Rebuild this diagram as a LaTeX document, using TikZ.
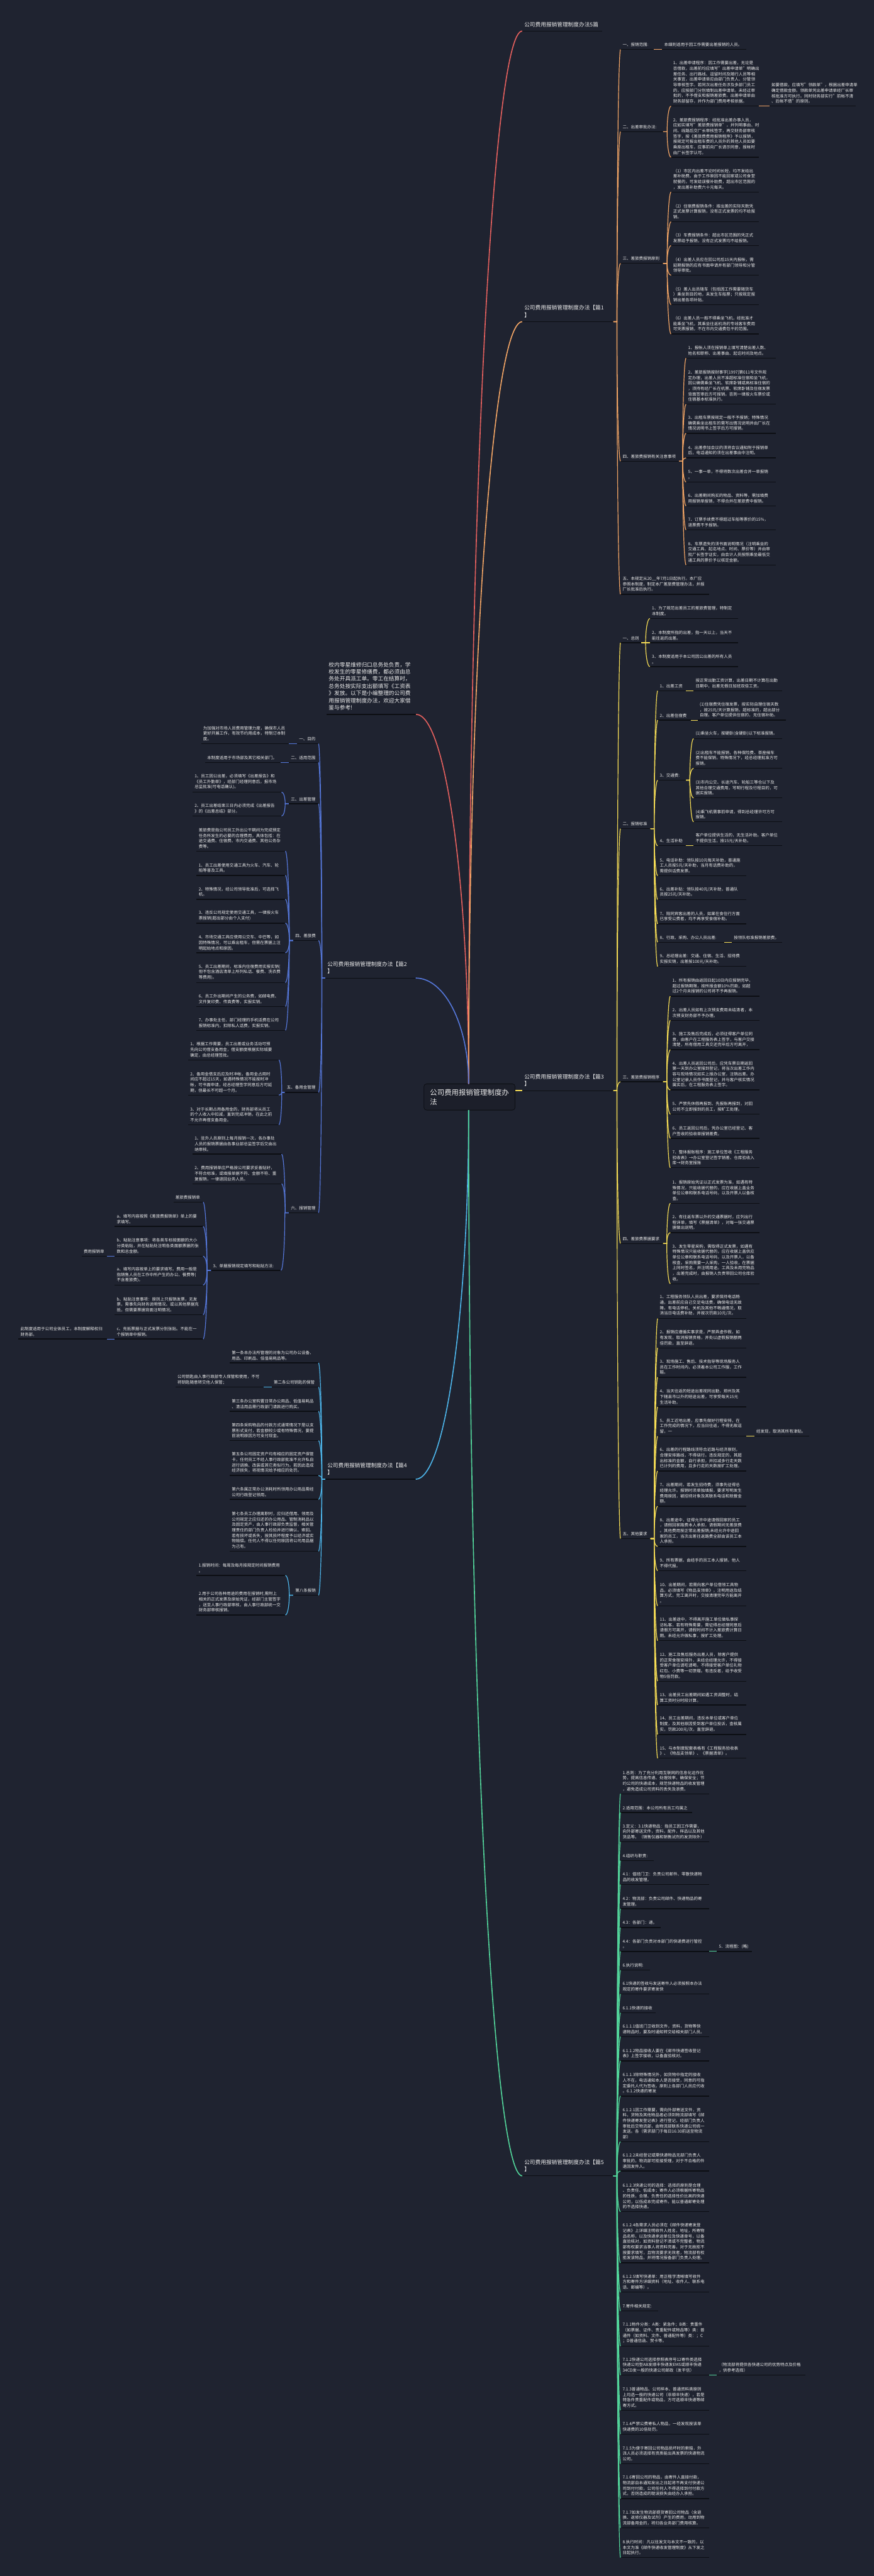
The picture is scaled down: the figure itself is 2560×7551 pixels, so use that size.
\documentclass[tikz,border=0pt]{standalone}
\usepackage{fontspec}
\setmainfont{Noto Sans CJK SC}
\usetikzlibrary{calc}
\definecolor{bg}{HTML}{1F2330}
\definecolor{rbg}{HTML}{1C1F2A}
\definecolor{ulc}{HTML}{0C0E13}
\definecolor{txc}{HTML}{EEEEEE}
\definecolor{cred}{HTML}{E4605E}
\definecolor{corg}{HTML}{F2A565}
\definecolor{cblu}{HTML}{5577D9}
\definecolor{cyel}{HTML}{F5DC55}
\definecolor{ccya}{HTML}{4DB5EA}
\definecolor{cgrn}{HTML}{52D49A}
\newcommand\RN[6]{%
  \node[#2, anchor=south west] (#1) at ({#3+6},{#5-8}) {#6};
  \draw[ul] (#3,#5) -- (#4,#5);
  \coordinate (#1l) at (#3,#5);
  \coordinate (#1r) at (#4,#5);}
\newcommand\conn[3]{%
  \coordinate (cj) at ($(#2)!0.5!(#2-|#3)$);
  \draw[cn,#1] (#2) -- (cj) .. controls ($(cj)!0.552!(cj|-#3)$) and ($(#3)!0.552!(cj|-#3)$) .. (#3);}
\newcommand\rconn[3]{%
  \draw[rcn,#1] (#2) .. controls ($(#2)!0.552!(#2|-#3)$) and ($(#3)!0.552!(#2|-#3)$) .. (#3);}
\begin{document}
\begin{tikzpicture}[x=1pt,y=-1pt,
 bt/.style={font=\fontsize{12}{16}\selectfont, text=txc, inner sep=0pt, align=left},
 tt/.style={font=\fontsize{16}{21}\selectfont, text=txc, inner sep=0pt, align=left, yshift=4pt},
 ul/.style={draw=ulc, line width=2.5pt},
 cn/.style={line width=2.2pt},
 rcn/.style={line width=3pt},
 rootbox/.style={draw=ulc, line width=1.5pt, rounded corners=8pt, fill=rbg, minimum width=267pt, minimum height=77pt, inner sep=0pt, text=txc, font=\fontsize{21}{28}\selectfont, align=left}]
\useasboundingbox (0,0) rectangle (2560,7551);
\fill[bg] (0,0) rectangle (2560,7551);

% ---------- root ----------
\node[rootbox] (root) at (1375.5,3215.5) {公司费用报销管理制度办\\法};
\coordinate (rootT) at (1373,3177);
\coordinate (rootB) at (1373,3254);
\coordinate (rootE) at (1509,3197);

% ---------- 5篇 ----------
\RN{T0}{tt}{1530}{1764}{91}{公司费用报销管理制度办法5篇}

% ---------- intro ----------
\node[font=\fontsize{16}{21}\selectfont, text=txc, inner sep=0pt, align=left, anchor=south west] (I0) at (963,2082) {校内零星维修归口总务处负责，学\\校发生的零星修缮费，都必须由总\\务处开具派工单。零工在结算时，\\总务处按实际支出额填写《工资表\\》发放。以下是小编整理的公司费\\用报销管理制度办法，欢迎大家借\\鉴与参考!};
\draw[ul] (957,2094) -- (1219,2094);
\coordinate (I0r) at (1219,2094);

% ---------- 篇1 ----------
\RN{P1}{tt}{1530}{1797}{943}{公司费用报销管理制度办法【篇1\\】}
\RN{a1}{bt}{1818}{1916}{145}{一、报销范围:}
\RN{a1c}{bt}{1940}{2186}{145}{本细则适用于因工作需要出差报销的人员。}
\RN{a2}{bt}{1818}{1943}{386}{二、出差审批办法:}
\RN{a21}{bt}{1966}{2223}{311}{1、出差申请程序：因工作需要出差，无论是\\否借款，出差前均应填写"出差申请单"明确出\\差任务、出行路线、逗留时间及随行人员等相\\关事宜，出差申请单应由部门负责人、分管领\\导审核签字。若同次出差任务涉及多部门员工\\的，应按部门分别填制出差申请单。未经过审\\批的，不予借支和报销差旅费。出差申请单由\\财务部留存，并作为部门费用考核依据。}
\RN{a21c}{bt}{2254}{2507}{311}{如要借款，应填写"领款单"，根据出差申请单\\确定借款金额。领款单凭出差申请单经厂长审\\核批准方可执行。同时财务部实行"前帐不清\\、后帐不借"的原则。}
\RN{a22}{bt}{1966}{2223}{461}{2、差旅费报销程序：经批准出差办事人员，\\应如实填写"差旅费报销单"，并列明事由、时\\间、线路后交厂长审核签字，再交财务部审核\\签字，按《差旅费费用报销程序》予以报销，\\按规定可报出租车费的人员外的其他人员如要\\乘座出租车，应事前向厂长请示同意，报帐时\\由厂长签字认可。}
\RN{a3}{bt}{1818}{1943}{772}{三、差旅费报销原则}
\RN{a31}{bt}{1966}{2223}{563}{（1）市区内出差不论时间长短，均不发给出\\差补助费。由于工作原因不能回家或公司食堂\\就餐的，可发给误餐补助费，超出市区范围的\\，发出差补助费六十元每天。}
\RN{a32}{bt}{1966}{2223}{650}{（2）住宿费报销条件：按出差的实际天数凭\\正式发票计算报销，没有正式发票的均不给报\\销。}
\RN{a33}{bt}{1966}{2223}{720}{（3）车费报销条件：超出市区范围的凭正式\\发票给予报销，没有正式发票均不给报销。}
\RN{a34}{bt}{1966}{2223}{807}{（4）出差人员应在回公司后15天内报帐，需\\延期报销的应有书面申请并有部门领导和分管\\领导审批。}
\RN{a35}{bt}{1966}{2223}{893}{（5）差人出员随车（包括因工作需要随货车\\）乘坐到目的地，未发生车船票；只按规定报\\销出差各项补贴。}
\RN{a36}{bt}{1966}{2223}{979}{（6）出差人员一般不得乘坐飞机，经批准才\\能乘坐飞机，其乘坐往返机场的专线客车费用\\可凭票报销，不在市内交通费包干的范围。}
\RN{a4}{bt}{1818}{1990}{1352}{四、差旅费报销有关注意事项}
\RN{a41}{bt}{2010}{2273}{1050}{1、报帐人须在报销单上填写清楚出差人数、\\姓名和职称、出差事由、起讫时间及地点。}
\RN{a42}{bt}{2010}{2273}{1185}{2、差旅报销按财事字[1997]第011号文件规\\定办理，出差人员不准超标准住宿和坐飞机，\\因公确需乘坐飞机、软席卧铺或高标准住宿的\\，须持有经厂长在机票、软席卧铺及住宿发票\\背面签审后方可报销。否则一律按火车票价或\\住宿基本标准执行。}
\RN{a43}{bt}{2010}{2273}{1270}{3、出租车票按规定一般不予报销；特殊情况\\确需乘坐出租车的需写出情况说明并由厂长在\\情况说明书上签字后方可报销。}
\RN{a44}{bt}{2010}{2273}{1342}{4、出差参加会议的须将会议通知附于报销单\\后，电话通知的须在出差事由中注明。}
\RN{a45}{bt}{2010}{2273}{1413}{5、一事一单，不得将数次出差合并一单报销\\。}
\RN{a46}{bt}{2010}{2273}{1483}{6、出差期间购买的物品、资料等，需加填费\\用报销单报销，不得合并在差旅费中报销。}
\RN{a47}{bt}{2010}{2273}{1553}{7、订票手续费不得超过车船等票价的15\%，\\退票费不予报销。}
\RN{a48}{bt}{2010}{2273}{1656}{8、车票遗失的须书面说明情况（注明乘坐的\\交通工具、起迄地点、时间、票价等）并由审\\批厂长签字证实，由会计人员按照乘坐最低交\\通工具的票价予以核定金额。}
\RN{a5}{bt}{1818}{2078}{1742}{五、本规定从20\_\_年7月1日起执行。本厂应\\参照本制度，制定本厂差旅费管理办法，并报\\厂长批准后执行。}

% ---------- 篇3 ----------
\RN{P3}{tt}{1530}{1797}{3197}{公司费用报销管理制度办法【篇3\\】}
\RN{b1}{bt}{1818}{1879}{1884}{一、总则}
\RN{b11}{bt}{1904}{2162}{1813}{1、为了规范出差员工的差旅费管理，特制定\\本制度。}
\RN{b12}{bt}{1904}{2162}{1884}{2、本制度所指的出差，指一天以上，当天不\\能往返的出差。}
\RN{b13}{bt}{1904}{2162}{1954}{3、本制度适用于本公司因公出差的所有人员\\。}
\RN{b2}{bt}{1818}{1906}{2429}{二、报销标准}
\RN{b21}{bt}{1927}{2010}{2025}{1、出差工资}
\RN{b21c}{bt}{2032}{2292}{2025}{按正常出勤工资计算，出差日期不计算在出勤\\日期中，出差无假日加班双倍工资。}
\RN{b22}{bt}{1927}{2024}{2111}{2、出差住宿费}
\RN{b22c}{bt}{2044}{2303}{2111}{(1)住宿费凭住宿发票，按实际自理住宿天数\\，按25元/天计算报销，超标准的，超出部分\\自理。客户单位提供住宿的，无住宿补助。}
\RN{b23}{bt}{1927}{2010}{2287}{3、交通费:}
\RN{b231}{bt}{2032}{2292}{2165}{(1)乘坐火车，按硬卧(含硬卧)以下标准报销。}
\RN{b232}{bt}{2032}{2292}{2252}{(2)出租车不能报销，各种保险费、茶座候车\\费不能保销，特殊情况下，经总经理批准方可\\报销。}
\RN{b233}{bt}{2032}{2292}{2339}{(3)市内公交、长途汽车、轮船三等仓以下及\\其他合理交通费用，写明行程及行程目的，可\\据实报销。}
\RN{b234}{bt}{2032}{2292}{2409}{(4)乘飞机需事前申请，得到总经理许可方可\\报销。}
\RN{b24}{bt}{1927}{2010}{2479}{4、生活补助}
\RN{b24c}{bt}{2032}{2292}{2479}{客户单位提供生活的，无生活补助。客户单位\\不提供生活，按15元/天补助。}
\RN{b25}{bt}{1927}{2186}{2567}{5、电话补助：领队按10元每天补助，普通施\\工人员按5元/天补助，当月有话费补助的，\\需提供话费发票。}
\RN{b26}{bt}{1927}{2186}{2637}{6、出差补贴：领队按40元/天补助，普通队\\员按25元/天补助。}
\RN{b27}{bt}{1927}{2186}{2708}{7、陪同宾客出差的人员，如果在食住行方面\\已享受公费者，均不再享受食宿补助。}
\RN{b28}{bt}{1927}{2121}{2762}{8、行政、采购、办公人员出差:}
\RN{b28c}{bt}{2144}{2292}{2762}{按领队标准报销差旅费。}
\RN{b29}{bt}{1927}{2186}{2833}{9、总经理出差：交通、住宿、生活、招待费\\实报实销，出差按100元/天补助。}
\RN{b3}{bt}{1818}{1943}{3171}{三、差旅费报销程序}
\RN{b31}{bt}{1964}{2225}{2920}{1、所有报销由返回日起10日内应报销完毕，\\超过报销期限，按所报金额10\%罚款，如超\\过2个月未报销的公司将不予再报销。}
\RN{b32}{bt}{1964}{2225}{2991}{2、出差人员如有上次预支费用未结清者，本\\次预支财务部不予办理。}
\RN{b33}{bt}{1964}{2225}{3077}{3、施工及售后完成后，必须征得客户单位同\\意，由客户在工程服务表上签字，与客户交接\\清楚，所有借用工具交还完毕后方可离开，}
\RN{b34}{bt}{1964}{2225}{3195}{4、出差人员返回公司后，应凭车票日期返回\\第一天到办公室报到登记，将当次出差工作内\\容与现场情况如实上报办公室，注销出差。办\\公室记录人员作书面登记，并与客户核实情况\\属实后，在工程服务表上签字。}
\RN{b35}{bt}{1964}{2225}{3266}{5、严禁先休假再报到、先报账再报到，对回\\公司不立即报到的员工，按旷工处理。}
\RN{b36}{bt}{1964}{2225}{3337}{6、员工返回公司后，凭办公室已经登记、客\\户签收的验收单报销差费。}
\RN{b37}{bt}{1964}{2225}{3423}{7、整体报账程序：施工单位签收《工程服务\\验收表》→办公室登记签字销差、仓库验收入\\库→财务室报账}
\RN{b4}{bt}{1818}{1943}{3645}{四、差旅费票据要求}
\RN{b41}{bt}{1964}{2225}{3527}{1、报销原始凭证以正式发票为准，如遇有特\\殊情况，只能收据代替的，应在收据上盖业务\\单位公章和联系电话号码，以及开票人以备核\\查。}
\RN{b42}{bt}{1964}{2225}{3613}{2、有往返车票以外的交通票据时，应列出行\\程详单，填写《票据清单》，对每一张交通票\\据做出说明。}
\RN{b43}{bt}{1964}{2225}{3763}{3、发生零星采购，需取得正式发票，如遇有\\特殊情况只能收据代替的，应在收据上盖供应\\单位公章和联系电话号码，以及开票人，以备\\核查。采购需要一人采购，一人验收，在票据\\上同时签名，并注明用途。工具及未用完物品\\，出差完成时，由报销人负责带回公司仓库验\\收。}
\RN{b5}{bt}{1818}{1906}{4510}{五、其他要求}
\RN{b51}{bt}{1927}{2186}{3865}{1、工程服务领队人员出差，要求保持电话畅\\通，出差前应自己交足电话费，确保电话无故\\障。有电话停机、关机及其他不畅通情况，取\\消当日电话费补助，并按次罚款10元/次。}
\RN{b52}{bt}{1927}{2186}{3951}{2、报销应遵循实事求是，严禁弄虚作假，如\\有发现，取消报销资格，并处以虚假报销额两\\倍罚款，直至辞退。}
\RN{b53}{bt}{1927}{2186}{4037}{3、现场施工、售后、技术指导等现场服务人\\员在工作时间内，必须着本公司工作服，工作\\鞋。}
\RN{b54}{bt}{1927}{2186}{4124}{4、当天往返的短途出差视同出勤，郑州及其\\下辖县市以外的短途出差，可享受每天15元\\生活补助。}
\RN{b55}{bt}{1927}{2186}{4210}{5、员工近地出差，应事先做好行程安排，在\\工作完成的情况下，应当日往返，不得无故逗\\留，一}
\RN{b55c}{bt}{2210}{2371}{4210}{经发现，取消其所有津贴。}
\RN{b56}{bt}{1927}{2186}{4312}{6、出差的行程路线须符合近路与经济原则，\\合理安排路线，不得绕行。违反规定的，其超\\出标准的金额，自行承担，并扣减多行走天数\\已计列的费用，且多行走的天数按旷工处理。}
\RN{b57}{bt}{1927}{2186}{4415}{7、出差期间，若发生招待费，须事先征得总\\经理允许。报销时须单独填报，要求写明发生\\费用原因，被招待对象及其联系电话和就餐金\\额。}
\RN{b58}{bt}{1927}{2186}{4533}{8、出差途中，征得允许中途请假回家的员工\\，请假回家路费本人承担，请假期间无差旅费\\。其他费用按正常出差报销;未经允许中途回\\家的员工，当次出差往返路费全部由该员工本\\人承担。}
\RN{b59}{bt}{1927}{2186}{4604}{9、所有票据，由经手的员工本人报销，他人\\不得代报。}
\RN{b510}{bt}{1927}{2186}{4707}{10、出差期间，若需向客户单位借领工具物\\品，必须填写《物品支领单》，注明用途及结\\算方式，完工离开时，交接清理完毕方能离开\\。}
\RN{b511}{bt}{1927}{2186}{4809}{11、出差途中，不得离开施工单位做私事探\\访私客，若有特殊需要，需征得总经理同意后\\请假方可离开，请假时间不计入差旅费计算日\\期。未经允许做私事，按旷工处理。}
\RN{b512}{bt}{1927}{2186}{4928}{12、施工及售后服务出差人员，除客户提供\\的正常食宿安排外，未经总经理允许，不得接\\受客户单位请吃请喝，不得接受客户单位礼物\\红包、小费等一切馈赠。有违反者，给予收受\\物5倍罚款。}
\RN{b513}{bt}{1927}{2186}{4998}{13、出差员工出差期间如遇工资调整时，结\\算工资时分时段计算。}
\RN{b514}{bt}{1927}{2186}{5084}{14、员工出差期间，违反本单位或客户单位\\制度，及其他原因受到客户单位投诉，查核属\\实，罚款200元/次，直至辞退。}
\RN{b515}{bt}{1927}{2186}{5154}{15、与本制度配套表格有《工程服务验收表\\》、《物品支领单》、《票据清单》。}

% ---------- 篇5 ----------
\RN{P5}{tt}{1530}{1797}{6378}{公司费用报销管理制度办法【篇5\\】}
\RN{f1}{bt}{1818}{2078}{5258}{1.总则：为了充分利用互联网的信息化运作优\\势，提高信息传递、处理效率，确保安全；节\\约公司的快递成本，规范快递物品的收发管理\\，避免造成公司资料的丢失及浪费。}
\RN{f2}{bt}{1818}{2027}{5313}{2.适用范围：本公司所有员工均属之}
\RN{f3}{bt}{1818}{2078}{5399}{3.定义：3.1快递物品：指员工因工作需要，\\向外部寄送文件，资料，配件，样品以及其他\\货品等。（销售仪器和销售试剂的发货除外）}
\RN{f4}{bt}{1818}{1916}{5454}{4.组织与职责:}
\RN{f5}{bt}{1818}{2078}{5524}{4.1：值班门卫：负责公司邮件、零散快递物\\品的收发管理。}
\RN{f6}{bt}{1818}{2078}{5595}{4.2：物流部：负责公司邮件、快递物品的寄\\发管理。}
\RN{f7}{bt}{1818}{1935}{5650}{4.3：各部门：递。}
\RN{f8}{bt}{1818}{2078}{5720}{4.4：各部门负责对本部门的快递费进行管控\\。}
\RN{f8c}{bt}{2100}{2203}{5720}{5．流程图：(略)}
\RN{f9}{bt}{1818}{1904}{5775}{6.执行说明:}
\RN{f10}{bt}{1818}{2078}{5845}{6.1快递的签收与发送寄件人必须按照本办法\\规定的寄件要求寄发快}
\RN{f11}{bt}{1818}{1921}{5900}{6.1.1快递的接收}
\RN{f12}{bt}{1818}{2078}{5970}{6.1.1.1值班门卫收到文件，资料，货物等快\\递物品时，要及时通知转交给相关部门人员。}
\RN{f13}{bt}{1818}{2078}{6041}{6.1.1.2物品接收人要在《邮件快递签收登记\\表》上签字接收，以备直验核对。}
\RN{f14}{bt}{1818}{2078}{6144}{6.1.1.3除特殊情况外，如货物中指定的接收\\人不在，电话通知本人是否接受，同意的可指\\定委托人代为签收。原则上各部门人员应代收\\。6.1.2快递的寄发}
\RN{f15}{bt}{1818}{2078}{6278}{6.1.2.1因工作需要，需向外部寄送文件，资\\料，货物及其他物品者必须到物流部填写《邮\\件快递寄发登记表》进行登记，经部门负责人\\审批后交物流部，由物流部联系快递公司统一\\发送。各（需求部门于每日16:30前送至物流\\部）}
\RN{f16}{bt}{1818}{2078}{6364}{6.1.2.2未经登记或需快递物品无部门负责人\\审批的，物流部可拒接受理，对于不合格的件\\退回发件人。}
\RN{f17}{bt}{1818}{2078}{6483}{6.1.2.3快递公司的选择：选择的原则是合理\\、负责任、低成本；寄件人必须根据所寄物品\\的性质，合理、负责任的选择性价比高的快递\\公司，以低成本完成寄件。能以普通邮寄处理\\的不选择快递。}
\RN{f18}{bt}{1818}{2078}{6633}{6.1.2.4各需求人员必须在《邮件快递寄发登\\记表》上详细注明收件人姓名，地址，所寄物\\品名称，以及快递承运单位及快递单号，以备\\直验核对，如资料登记不清或不完整者，物流\\部有权要求当事人将资料完善，对于无故拒不\\按要求填写，且物流要求无效者，物流部有权\\拒发该物品，并将情况报备部门负责人处理。}
\RN{f19}{bt}{1818}{2078}{6719}{6.1.2.5填写快递单：用正楷字清晰填写收件\\方和寄件方详细资料（地址、收件人、联系电\\话、邮编等）。}
\RN{f20}{bt}{1818}{1928}{6774}{7.寄件相关规定:}
\RN{f21}{bt}{1818}{2078}{6877}{7.1.1物件分类：A类：紧急件；B类：贵重件\\（如票据、证件、贵重配件或物品等）类：普\\通件（如资料、文件、普通配件等）类：；C\\；D普通信函、贺卡等。}
\RN{f22}{bt}{1818}{2078}{6962}{7.1.2快递公司选择参照表序号12寄件类选择\\快递公司型AB发顺丰快递发EMS或顺丰快递\\34CD发一般的快递公司邮政（发平信）}
\RN{f22c}{bt}{2100}{2360}{6962}{（物流部将提供各快递公司的优势特点及价格\\，供参考选择）}
\RN{f23}{bt}{1818}{2078}{7065}{7.1.3普通物品、公司样本、普通资料类原则\\上均选一般的快递公司（非顺丰快递），若是\\特急件贵重配件或物品，方可选顺丰快递等邮\\寄方式。}
\RN{f24}{bt}{1818}{2078}{7135}{7.1.4严禁公费寄私人物品，一经发现按该单\\快递费的10倍处罚。}
\RN{f25}{bt}{1818}{2078}{7222}{7.1.5为便于寄回公司物品损坏时的索赔，外\\派人员必须选择有资质能出具发票的快递物流\\公司。}
\RN{f26}{bt}{1818}{2078}{7324}{7.1.6寄回公司的物品，由寄件人直接付款，\\物流部自本通知发出之日起将不再支付快递公\\司到付付款，公司任何人不得选择到付付款方\\式，否则造成的耽误损失由经办人承担。}
\RN{f27}{bt}{1818}{2078}{7410}{7.1.7如发生物流部提货寄回公司物品（含退\\换、返修仪器及试剂）产生的费用，动用到物\\流部备用金的，将归各业务部门费用核算。}
\RN{f28}{bt}{1818}{2078}{7497}{8.执行时间：凡以往发文与本文不一致的，以\\本文为准《邮件快递收发管理制度》从下发之\\日起执行。}

% ---------- 篇2 (left) ----------
\RN{P2}{tt}{953}{1218}{2867}{公司费用报销管理制度办法【篇2\\】}
\RN{c1}{bt}{870}{933}{2180}{一、目的}
\RN{c1c}{bt}{589}{847}{2180}{为加强对市场人员费用管理力度，确保市人员\\更好开展工作，有效节约用成本，特制订本制\\度。}
\RN{c2}{bt}{846}{933}{2235}{二、适用范围}
\RN{c2c}{bt}{601}{823}{2235}{本制度适用于市场部及其它相关部门。}
\RN{c3}{bt}{846}{933}{2356}{三、出差管理}
\RN{c31}{bt}{564}{825}{2322}{1、员工因公出差，必须填写《出差报告》和\\《员工外勤单》，经部门经理同意后，报市场\\总监批准(可电话确认)。}
\RN{c32}{bt}{564}{825}{2392}{2、员工出差结束三日内必须完成《出差报告\\》的《出差总结》部分。}
\RN{c4}{bt}{859}{933}{2757}{四、差旅费}
\RN{c41}{bt}{576}{836}{2495}{差旅费是指公司员工外出公干期间为完成预定\\任务所发生的必要的合理费用，具体包括：在\\途交通费、住宿费、市内交通费、其他公务杂\\费等。}
\RN{c42}{bt}{576}{836}{2566}{1、员工出差使用交通工具为火车、汽车、轮\\船等普及工具。}
\RN{c43}{bt}{576}{836}{2636}{2、特殊情况，经公司领导批准后，可选择飞\\机。}
\RN{c44}{bt}{576}{836}{2706}{3、违反公司规定使用交通工具，一律按火车\\票报销(超出部分由个人支付)}
\RN{c45}{bt}{576}{836}{2793}{4、市场交通工具应使用公交车、中巴等，如\\因特殊情况，可以乘出租车，但需在票据上注\\明起始地点和原因。}
\RN{c46}{bt}{576}{836}{2880}{5、员工出差期间，标准内住宿费用实报实销(\\但不包含酒店清单上所列私话、餐费、洗衣费\\等费用)。}
\RN{c47}{bt}{576}{836}{2950}{6、员工外出期间产生的公务费，如邮电费、\\文件复印费、传真费等，实报实销。}
\RN{c48}{bt}{576}{836}{3020}{7、办事处主任、部门经理的手机话费在公司\\报销标准内，扣除私人话费，实报实销。}
\RN{c5}{bt}{834}{933}{3202}{五、备用金管理}
\RN{c51}{bt}{551}{817}{3107}{1、根据工作需要，员工出差或业务活动可预\\先向公司借支备用金，借支额度根据实际城要\\确定，由总经理签批。}
\RN{c52}{bt}{551}{817}{3210}{2、备用金借支后应及时冲帐，备用金占用时\\间应不超过15天，如遇特殊情况不能按时冲\\帐，可书面申请，经总经理签字同意后方可延\\期，但最长不可超一个月。}
\RN{c53}{bt}{551}{817}{3297}{3、对于长期占用备用金的，财务部将从员工\\的个人收入中扣减，直到完成冲销，在此之前\\不允许再借支备用金。}
\RN{c6}{bt}{846}{933}{3555}{六、报销管理}
\RN{c61}{bt}{564}{825}{3383}{1、驻外人员原则上每月报销一次，各办事处\\人员的报销票据由各事业部总监签字后交由出\\纳审核。}
\RN{c62}{bt}{564}{825}{3470}{2、费用报销单应严格按公司要求妥善贴好，\\不符合标准，或填报单据不符、金额不符、重\\复报销，一律退回业务人员。}
\RN{c63}{bt}{618}{823}{3724}{3、单据报销规定填写和粘贴方法:}
\RN{d1}{bt}{508}{595}{3524}{差旅费报销单}
\RN{d2}{bt}{336}{595}{3595}{a、填写内容按照《差旅费报销单》单上的要\\求填写。}
\RN{d3}{bt}{336}{595}{3682}{b、粘贴注意事项：将各类车标按面额的大小\\分类粘贴，并在粘贴处注明各类面额票据的张\\数和总金额。}
\RN{d3c}{bt}{239}{313}{3682}{费用报销单}
\RN{d4}{bt}{336}{595}{3767}{a、填写内容按单上的要求填写。费用一般是\\指销售人员在工作中所产生的办公、餐费等(\\不含差旅费)。}
\RN{d5}{bt}{336}{595}{3854}{b、粘贴注意事项：原则上只报销发票，无发\\票，需事先向财务说明情况。或以其他票据充\\抵，但需要票据背面注明情况。}
\RN{d6}{bt}{336}{595}{3925}{c、充抵票据与正式发票分别张贴。不能在一\\个报销单中报销。}
\RN{d6c}{bt}{54}{313}{3925}{此制度适用于公司全体员工，本制度解释权归\\财务部。}

% ---------- 篇4 (left) ----------
\RN{P4}{tt}{953}{1218}{4336}{公司费用报销管理制度办法【篇4\\】}
\RN{e1}{bt}{673}{933}{3995}{第一条本办法所管理的对象为公司办公设备、\\用品、印刷品、低值易耗品等。}
\RN{e2}{bt}{796}{933}{4066}{第二条公司钥匙的保管}
\RN{e2c}{bt}{514}{773}{4066}{公司钥匙由人事行政部专人保管和使用，不可\\将钥匙随意转交他人保管；}
\RN{e3}{bt}{673}{933}{4137}{第三条办公室购置日常办公用品、低值易耗品\\、清洁用品需行政部门请款进行购买。}
\RN{e4}{bt}{673}{933}{4223}{第四条采购物品的付款方式通常情况下是以支\\票形式支付，若金额较少或有特殊情况，要提\\前说明原因方可支付现金。}
\RN{e5}{bt}{673}{933}{4325}{第五条公司固定资产均有相应的固定资产保管\\卡，任何员工不经人事行政部批准不允许私自\\进行调换、改装或其它类似行为。若因此造成\\经济损失，将视情况给予相应的处罚。}
\RN{e6}{bt}{673}{933}{4395}{第六条属正常办公消耗时所领用办公用品需经\\公司行政登记领用。}
\RN{e7}{bt}{673}{933}{4547}{第七条员工办理离职时，应归还借用、领用及\\公司规定之应归还的办公用品、管制消耗品以\\及固定资产，由人事行政部负责监督，相关管\\理责任的部门负责人检验并进行确认、索回。\\若有损坏或丢失，按其损坏程度予以经济或实\\物赔偿。任何人不得以任何原因将公司用品据\\为己有。}
\RN{e8}{bt}{859}{933}{4676}{第八条报销}
\RN{e81}{bt}{576}{836}{4618}{1.报销时间：每周及每月按规定时间报销费用\\。}
\RN{e82}{bt}{576}{836}{4734}{2.用于公司各种用途的费用在报销时,需附上\\相关的正式发票及原始凭证，经部门主管签字\\，送至人事行政部审核，由人事行政部统一交\\财务部审核报销。}

% ---------- root connectors ----------
\rconn{cred}{rootT}{T0l}
\rconn{cred}{rootT}{I0r}
\rconn{corg}{rootT}{P1l}
\rconn{cblu}{rootT}{P2r}
\rconn{cyel}{rootE}{P3l}
\rconn{ccya}{rootB}{P4r}
\rconn{cgrn}{rootB}{P5l}

% ---------- 篇1 connectors ----------
\foreach \c in {a1,a2,a3,a4,a5} {\conn{corg}{P1r}{\c l}}
\conn{corg}{a1r}{a1cl}
\conn{corg}{a2r}{a21l}
\conn{corg}{a2r}{a22l}
\conn{corg}{a21r}{a21cl}
\foreach \c in {a31,a32,a33,a34,a35,a36} {\conn{corg}{a3r}{\c l}}
\foreach \c in {a41,a42,a43,a44,a45,a46,a47,a48} {\conn{corg}{a4r}{\c l}}

% ---------- 篇3 connectors ----------
\foreach \c in {b1,b2,b3,b4,b5} {\conn{cyel}{P3r}{\c l}}
\foreach \c in {b11,b12,b13} {\conn{cyel}{b1r}{\c l}}
\foreach \c in {b21,b22,b23,b24,b25,b26,b27,b28,b29} {\conn{cyel}{b2r}{\c l}}
\conn{cyel}{b21r}{b21cl}
\conn{cyel}{b22r}{b22cl}
\foreach \c in {b231,b232,b233,b234} {\conn{cyel}{b23r}{\c l}}
\conn{cyel}{b24r}{b24cl}
\conn{cyel}{b28r}{b28cl}
\foreach \c in {b31,b32,b33,b34,b35,b36,b37} {\conn{cyel}{b3r}{\c l}}
\foreach \c in {b41,b42,b43} {\conn{cyel}{b4r}{\c l}}
\foreach \c in {b51,b52,b53,b54,b55,b56,b57,b58,b59,b510,b511,b512,b513,b514,b515} {\conn{cyel}{b5r}{\c l}}
\conn{cyel}{b55r}{b55cl}

% ---------- 篇5 connectors ----------
\foreach \c in {f1,f2,f3,f4,f5,f6,f7,f8,f9,f10,f11,f12,f13,f14,f15,f16,f17,f18,f19,f20,f21,f22,f23,f24,f25,f26,f27,f28} {\conn{cgrn}{P5r}{\c l}}
\conn{cgrn}{f8r}{f8cl}
\conn{cgrn}{f22r}{f22cl}

% ---------- 篇2 connectors ----------
\foreach \c in {c1,c2,c3,c4,c5,c6} {\conn{cblu}{P2l}{\c r}}
\conn{cblu}{c1l}{c1cr}
\conn{cblu}{c2l}{c2cr}
\foreach \c in {c31,c32} {\conn{cblu}{c3l}{\c r}}
\foreach \c in {c41,c42,c43,c44,c45,c46,c47,c48} {\conn{cblu}{c4l}{\c r}}
\foreach \c in {c51,c52,c53} {\conn{cblu}{c5l}{\c r}}
\foreach \c in {c61,c62,c63} {\conn{cblu}{c6l}{\c r}}
\foreach \c in {d1,d2,d3,d4,d5,d6} {\conn{cblu}{c63l}{\c r}}
\conn{cblu}{d3l}{d3cr}
\conn{cblu}{d6l}{d6cr}

% ---------- 篇4 connectors ----------
\foreach \c in {e1,e2,e3,e4,e5,e6,e7,e8} {\conn{ccya}{P4l}{\c r}}
\conn{ccya}{e2l}{e2cr}
\foreach \c in {e81,e82} {\conn{ccya}{e8l}{\c r}}
\end{tikzpicture}
\end{document}
